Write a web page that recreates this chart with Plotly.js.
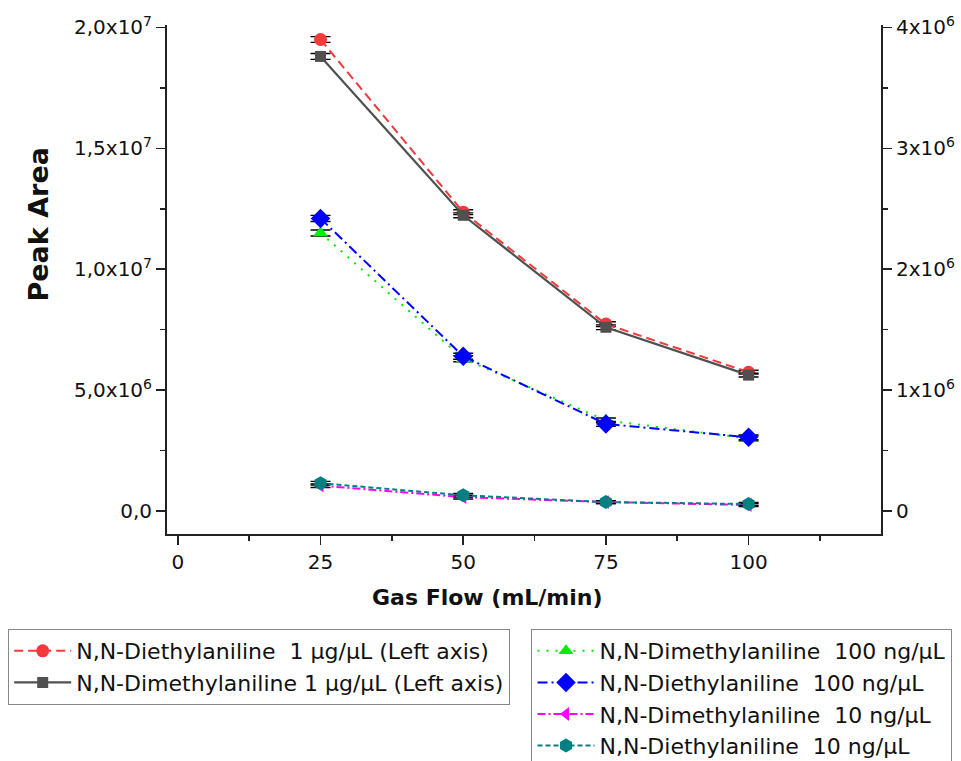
<!DOCTYPE html>
<html>
<head>
<meta charset="utf-8">
<script src="https://cdn.plot.ly/plotly-3.0.1.min.js"></script>
<style>html,body{margin:0;padding:0;background:#fff;}#chart{width:961px;height:761px;}</style>
</head>
<body>
<div id="chart"></div>
<script>
// ---- data ----
const flow = [25, 50, 75, 100];
const deaHigh = [19.5e6, 12.36e6, 7.73e6, 5.74e6];   // N,N-Diethylaniline 1 µg/µL (left)
const dmaHigh = [18.8e6, 12.23e6, 7.60e6, 5.62e6];   // N,N-Dimethylaniline 1 µg/µL (left)
const dmaMid  = [2.30e6, 1.26e6, 0.75e6, 0.60e6];    // N,N-Dimethylaniline 100 ng/µL (right)
const deaMid  = [2.42e6, 1.28e6, 0.72e6, 0.61e6];    // N,N-Diethylaniline 100 ng/µL (right)
const dmaLow  = [0.21e6, 0.115e6, 0.074e6, 0.050e6]; // N,N-Dimethylaniline 10 ng/µL (right)
const deaLow  = [0.23e6, 0.13e6, 0.074e6, 0.058e6];  // N,N-Diethylaniline 10 ng/µL (right)
const errHigh = [0.12e6, 0.10e6, 0.10e6, 0.08e6];
const errMid  = [0.025e6, 0.025e6, 0.02e6, 0.02e6];
const errLow  = [0.015e6, 0.015e6, 0.012e6, 0.012e6];

const xTicks = [0, 25, 50, 75, 100];
const xMinor = [12.5, 37.5, 62.5, 87.5, 112.5];
const yLeftTicks = [0, 5e6, 10e6, 15e6, 20e6];
const yLeftText = ['0,0', '5,0x10<sup>6</sup>', '1,0x10<sup>7</sup>', '1,5x10<sup>7</sup>', '2,0x10<sup>7</sup>'];
const yLeftMinor = [2.5e6, 7.5e6, 12.5e6, 17.5e6];
const yRightTicks = [0, 1e6, 2e6, 3e6, 4e6];
const yRightText = ['0', '1x10<sup>6</sup>', '2x10<sup>6</sup>', '3x10<sup>6</sup>', '4x10<sup>6</sup>'];
const yRightMinor = [0.5e6, 1.5e6, 2.5e6, 3.5e6];

const FONT = '"DejaVu Sans", Arial, sans-serif';

function err(a){ return {type:'data', array:a, visible:true, color:'#000', thickness:1.4, width:10}; }

const traces = [
  {x:flow, y:deaHigh, yaxis:'y', name:'N,N-Diethylaniline  1 µg/µL (Left axis)', legend:'legend',
   mode:'lines+markers', line:{color:'#f23a3a', width:2, dash:'9px,5px'},
   marker:{symbol:'circle', size:13, color:'#f23a3a'}, error_y:err(errHigh)},
  {x:flow, y:dmaHigh, yaxis:'y', name:'N,N-Dimethylaniline 1 µg/µL (Left axis)', legend:'legend',
   mode:'lines+markers', line:{color:'#505050', width:2.2},
   marker:{symbol:'square', size:11, color:'#505050'}, error_y:err(errHigh)},
  {x:flow, y:dmaMid, yaxis:'y2', name:'N,N-Dimethylaniline  100 ng/µL', legend:'legend2',
   mode:'lines+markers', line:{color:'#00ee00', width:2, dash:'2px,7px'},
   marker:{symbol:'triangle-up', size:13, color:'#00ee00'}, error_y:err(errMid)},
  {x:flow, y:deaMid, yaxis:'y2', name:'N,N-Diethylaniline  100 ng/µL', legend:'legend2',
   mode:'lines+markers', line:{color:'#0000ff', width:2, dash:'10px,4px,2px,4px'},
   marker:{symbol:'diamond', size:15, color:'#0000ff'}, error_y:err(errMid)},
  {x:flow, y:dmaLow, yaxis:'y2', name:'N,N-Dimethylaniline  10 ng/µL', legend:'legend2',
   mode:'lines+markers', line:{color:'#ff00ff', width:2, dash:'8px,3px,2px,3px'},
   marker:{symbol:'triangle-left', size:12, color:'#ff00ff'}, error_y:err(errLow)},
  {x:flow, y:deaLow, yaxis:'y2', name:'N,N-Diethylaniline  10 ng/µL', legend:'legend2',
   mode:'lines+markers', line:{color:'#008080', width:2, dash:'5px,3px'},
   marker:{symbol:'hexagon', size:14, color:'#008080'}, error_y:err(errLow)}
];

const axisCommon = {
  showline:true, linecolor:'#222', linewidth:2, ticks:'outside', ticklen:9, tickwidth:1.6, tickcolor:'#222',
  showgrid:false, zeroline:false, tickfont:{family:FONT, size:20, color:'#111'}
};
const minorCommon = {tickmode:'array', ticks:'outside', ticklen:5, tickwidth:1.6, tickcolor:'#222'};

const layout = {
  width:961, height:761,
  margin:{l:167, r:80, t:25, b:227, autoexpand:false},
  paper_bgcolor:'#fff', plot_bgcolor:'#fff',
  showlegend:true,
  font:{family:FONT, color:'#111'},
  xaxis:Object.assign({}, axisCommon, {
    range:[-1.9, 123.2], tickmode:'array', tickvals:xTicks, ticktext:xTicks.map(String),
    minor:Object.assign({tickvals:xMinor}, minorCommon)
  }),
  yaxis:Object.assign({}, axisCommon, {
    range:[-0.95e6, 20.1e6], tickmode:'array', tickvals:yLeftTicks, ticktext:yLeftText,
    minor:Object.assign({tickvals:yLeftMinor}, minorCommon)
  }),
  yaxis2:Object.assign({}, axisCommon, {
    overlaying:'y', side:'right', anchor:'x',
    range:[-0.19e6, 4.02e6], tickmode:'array', tickvals:yRightTicks, ticktext:yRightText,
    minor:Object.assign({tickvals:yRightMinor}, minorCommon)
  }),
  legend:{x:-0.2224, y:-0.1866, xanchor:'left', yanchor:'top', bgcolor:'#fff', bordercolor:'#888', borderwidth:1,
    font:{family:FONT, size:22, color:'#111'}, traceorder:'normal', itemwidth:57},
  legend2:{x:0.5105, y:-0.1866, xanchor:'left', yanchor:'top', bgcolor:'#fff', bordercolor:'#888', borderwidth:1,
    font:{family:FONT, size:22, color:'#111'}, traceorder:'normal', itemwidth:57},
  annotations:[
    {text:'<b>Peak Area</b>', xref:'paper', yref:'paper', x:-0.18, y:0.609, textangle:-90, showarrow:false,
     font:{family:FONT, size:27, color:'#111'}, xanchor:'center', yanchor:'middle'},
    {text:'<b>Gas Flow (mL/min)</b>', xref:'paper', yref:'paper', x:0.449, y:-0.124, showarrow:false,
     font:{family:FONT, size:22, color:'#111'}, xanchor:'center', yanchor:'middle'}
  ]
};

Plotly.newPlot('chart', traces, layout, {displayModeBar:false, staticPlot:true});
</script>
</body>
</html>
